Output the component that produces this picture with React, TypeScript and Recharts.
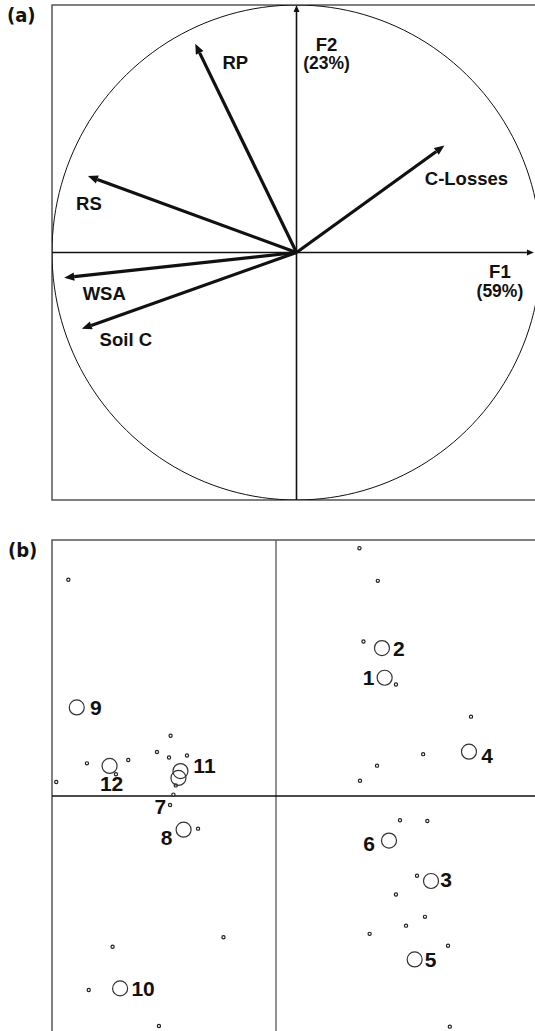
import React from "react";
import { ScatterChart, Scatter, XAxis, YAxis, ReferenceArea, ReferenceLine } from "recharts";

// (a) correlation circle: loadings of the variables on F1 / F2
const variables = ["RP", "C-Losses", "RS", "WSA", "Soil C"];
const loadF1 = [-0.414, 0.605, -0.853, -0.95, -0.878];
const loadF2 = [0.843, 0.432, 0.309, -0.102, -0.308];

const axisNames = ["F1", "F2"];
const axisShares = ["(59%)", "(23%)"];

// (b) scores of the sites (big circles) and of the replicates (small dots)
const sites = ["1", "2", "3", "4", "5", "6", "7", "8", "9", "10", "11", "12"];
const siteF1 = [0.97, 0.946, 1.384, 1.723, 1.238, 1.009, -0.871, -0.825, -1.779, -1.392, -0.853, -1.486];
const siteF2 = [0.924, 1.156, -0.664, 0.346, -1.277, -0.348, 0.141, -0.263, 0.692, -1.503, 0.195, 0.235];

const repF1 = [
  -1.854, 0.745, 0.909, 0.781, 1.071, 1.741, -0.941, 1.314, -1.688, -1.429, -1.319, -1.063,
  -0.955, -0.795, 0.902, -1.962, 0.75, -0.895, -0.916, -0.946, -0.696, 1.107, 1.351, 1.259,
  1.071, 1.33, 1.161, 0.836, 1.536, -0.469, -1.459, -1.672, -1.045, 1.552,
];
const repF2 = [
  1.69, 1.935, 1.681, 1.207, 0.871, 0.62, 0.471, 0.327, 0.255, 0.17, 0.281, 0.344,
  0.301, 0.316, 0.237, 0.109, 0.119, 0.083, 0.011, -0.07, -0.255, -0.189, -0.195, -0.623,
  -0.77, -0.944, -1.013, -1.077, -1.17, -1.103, -1.178, -1.516, -1.797, -1.802,
];

const INK = "#111";
const FRAME = "#555";
const LABEL_FONT = "'Liberation Sans', Arial, sans-serif";
const NUM_FONT = "'Liberation Sans Narrow', 'Arial Narrow', 'Liberation Sans', sans-serif";

// label placement, in pixels from the arrow tip / circle centre
const vecLabelOffset: Record<string, [number, number]> = {
  RP: [40, 19],
  "C-Losses": [22, 33],
  RS: [1, 27],
  WSA: [40, 16],
  "Soil C": [44, 11],
  F1: [-34, 19],
  F2: [30, 39],
};
const siteLabelOffset: Record<string, [number, number]> = {
  "1": [-16, 0], "2": [17, 0], "3": [15, -1], "4": [18, 4], "5": [16, 0], "6": [-20, 3],
  "7": [-18, 29], "8": [-17, 8], "9": [19, 0], "10": [23, 0], "11": [24, -6], "12": [2, 18],
};

const vectorData = variables.map((name, i) => ({ name, x: loadF1[i], y: loadF2[i] }));
const axisData = [
  { name: axisNames[0], share: axisShares[0], from: { x: -1, y: 0 }, to: { x: 0.971, y: 0 } },
  { name: axisNames[1], share: axisShares[1], from: { x: 0, y: -1 }, to: { x: 0, y: 1 } },
];
const siteData = sites.map((name, i) => ({ name, x: siteF1[i], y: siteF2[i] }));
const repData = repF1.map((x, i) => ({ x, y: repF2[i] }));

// unit correlation circle (geometry, not data)
const circlePts = Array.from({ length: 181 }, (_, i) => {
  const t = (i / 180) * Math.PI * 2;
  return { x: Math.cos(t), y: Math.sin(t) };
});

const noShape = () => <g />;

function arrowLine(width: number, head: number, lines: string[], offset: [number, number]) {
  return (props: any) => {
    const pts = props.points || [];
    if (pts.length < 2) return <g />;
    const a = pts[0];
    const b = pts[pts.length - 1];
    const ang = Math.atan2(b.y - a.y, b.x - a.x);
    const hx = b.x - head * Math.cos(ang);
    const hy = b.y - head * Math.sin(ang);
    const nx = -Math.sin(ang);
    const ny = Math.cos(ang);
    const half = head * 0.42;
    const lx = b.x + offset[0];
    const ly = b.y + offset[1];
    return (
      <g>
        <line x1={a.x} y1={a.y} x2={hx} y2={hy} stroke={INK} strokeWidth={width} />
        <polygon
          points={`${b.x},${b.y} ${hx + nx * half},${hy + ny * half} ${hx - nx * half},${hy - ny * half}`}
          fill={INK}
        />
        {lines.map((t, k) => (
          <text
            key={k}
            x={lx}
            y={ly + k * 19}
            textAnchor="middle"
            dominantBaseline="central"
            fontFamily={LABEL_FONT}
            fontWeight="bold"
            fontSize={k === 0 ? 18.5 : 17.5}
            fill={INK}
          >
            {t}
          </text>
        ))}
      </g>
    );
  };
}

const SiteCircle = (props: any) => {
  const { cx, cy, payload } = props;
  const off = siteLabelOffset[payload.name] || [16, 0];
  return (
    <g>
      <circle cx={cx} cy={cy} r={7.5} fill="none" stroke="#333" strokeWidth={1.2} />
      <text
        x={cx + off[0]}
        y={cy + off[1]}
        textAnchor="middle"
        dominantBaseline="central"
        fontFamily={NUM_FONT}
        fontWeight="bold"
        fontSize={21}
        fill={INK}
      >
        {payload.name}
      </text>
    </g>
  );
};

const RepDot = (props: any) => (
  <circle cx={props.cx} cy={props.cy} r={1.6} fill="#fff" stroke="#222" strokeWidth={1.2} />
);

const panelLabel: React.CSSProperties = {
  position: "absolute",
  fontFamily: "'DejaVu Sans Condensed', 'DejaVu Sans', sans-serif",
  fontWeight: "bold",
  fontSize: 20,
  color: INK,
};

export default function App() {
  return (
    <div
      style={{
        position: "absolute",
        left: 0,
        top: 0,
        width: 535,
        height: 1031,
        overflow: "hidden",
        background: "#fff",
      }}
    >
      <div style={{ ...panelLabel, left: 7, top: 3 }}>(a)</div>
      <div style={{ ...panelLabel, left: 8, top: 538 }}>(b)</div>

      <div style={{ position: "absolute", left: 0, top: 0 }}>
        <ScatterChart width={560} height={510} margin={{ top: 5, right: 19, bottom: 10, left: 52 }}>
          <XAxis type="number" dataKey="x" domain={[-1, 1]} hide allowDataOverflow />
          <YAxis type="number" dataKey="y" domain={[-1, 1]} hide allowDataOverflow />
          <ReferenceArea x1={-1} x2={1} y1={-1} y2={1} fill="none" stroke={FRAME} strokeWidth={1.5} fillOpacity={0} />
          <Scatter
            data={circlePts}
            shape={noShape}
            line={{ stroke: INK, strokeWidth: 1 }}
            lineType="joint"
            isAnimationActive={false}
          />
          {axisData.map((ax) => (
            <Scatter
              key={ax.name}
              data={[ax.from, ax.to]}
              shape={noShape}
              line={arrowLine(1.6, 7, [ax.name, ax.share], vecLabelOffset[ax.name])}
              isAnimationActive={false}
            />
          ))}
          {vectorData.map((v) => (
            <Scatter
              key={v.name}
              data={[{ x: 0, y: 0 }, { x: v.x, y: v.y }]}
              shape={noShape}
              line={arrowLine(3.2, 10, [v.name], vecLabelOffset[v.name])}
              isAnimationActive={false}
            />
          ))}
        </ScatterChart>
      </div>

      <div style={{ position: "absolute", left: 0, top: 530 }}>
        <ScatterChart width={580} height={560} margin={{ top: 10, right: 24, bottom: 38, left: 52 }}>
          <XAxis type="number" dataKey="x" domain={[-2, 2.5]} hide allowDataOverflow />
          <YAxis type="number" dataKey="y" domain={[-2, 2]} hide allowDataOverflow />
          <ReferenceArea x1={-2} x2={2.5} y1={-2} y2={2} fill="none" stroke={FRAME} strokeWidth={1.5} fillOpacity={0} />
          <ReferenceLine x={0} stroke={FRAME} strokeWidth={1.3} />
          <ReferenceLine y={0} stroke={INK} strokeWidth={1.3} />
          <Scatter data={repData} shape={RepDot} isAnimationActive={false} />
          <Scatter data={siteData} shape={SiteCircle} isAnimationActive={false} />
        </ScatterChart>
      </div>
    </div>
  );
}
